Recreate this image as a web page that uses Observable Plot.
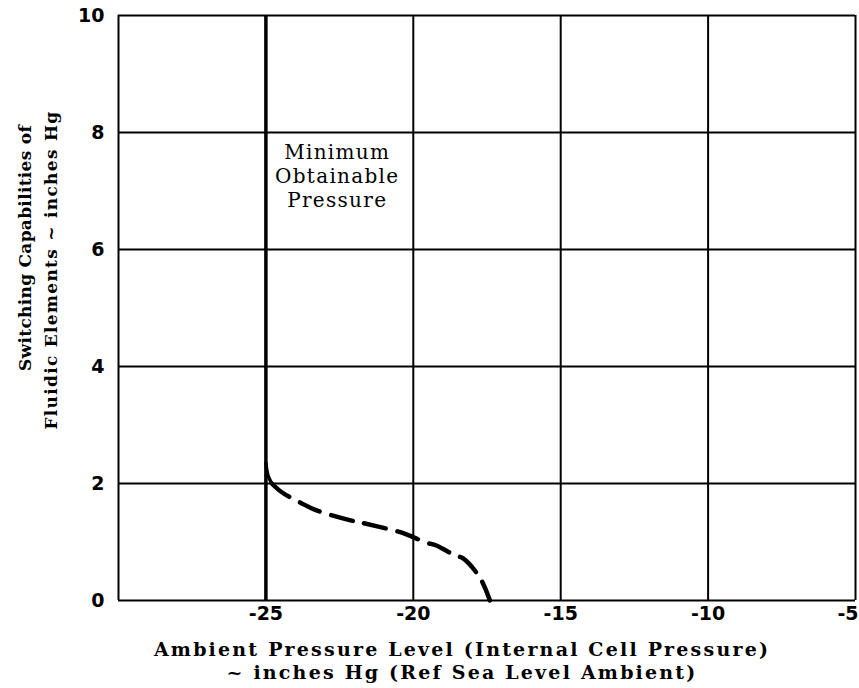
<!DOCTYPE html>
<html>
<head>
<meta charset="utf-8">
<script src="https://cdn.jsdelivr.net/npm/d3@7"></script>
<script src="https://cdn.jsdelivr.net/npm/@observablehq/plot@0.6"></script>
<style>
  html, body { margin: 0; padding: 0; background: #fff; }
  #chart svg { display: block; }
  .xtitle text { letter-spacing: 2.2px; }
  .ytitle1 text { letter-spacing: 0.3px; }
  .ytitle2 text { letter-spacing: 1.3px; }
  .note text { letter-spacing: 1.3px; }
</style>
</head>
<body>
<div id="chart"></div>
<script>
const xTicks = [-25, -20, -15, -10];
const xLastTick = [-5];
const yTicks = [0, 2, 4, 6, 8, 10];
const xGrid = [-30, -25, -20, -15, -10, -5];
const minPressure = -25;

// solid part of the curve, hugging the minimum-pressure line
const solidX = [-25, -24.93, -24.8];
const solidY = [2.35, 2.14, 2.0];

// dashed part of the curve
const dashX = [-24.8, -24.46, -23.78, -23.28, -22.13, -21.76, -20.68, -20.34, -19.56, -19.22, -18.58, -18.31, -17.74, -17.4];
const dashY = [2.0, 1.85, 1.66, 1.54, 1.37, 1.33, 1.2, 1.15, 0.99, 0.94, 0.77, 0.72, 0.39, 0.0];

const noteLines = "Minimum\nObtainable\nPressure";
const xTitle1 = "Ambient Pressure Level (Internal Cell Pressure)";
const xTitle2 = "~ inches Hg (Ref Sea Level Ambient)";
const yTitle1 = "Switching Capabilities of";
const yTitle2 = "Fluidic Elements ~ inches Hg";

const solid = solidX.map((x, i) => ({x, y: solidY[i]}));
const dashed = dashX.map((x, i) => ({x, y: dashY[i]}));

const serif = "'DejaVu Serif', 'Liberation Serif', serif";
const sans = "'DejaVu Sans', 'Liberation Sans', sans-serif";
const fmt = d => "-" + Math.abs(d);

const chart = Plot.plot({
  width: 859,
  height: 688,
  marginLeft: 118,
  marginRight: 4,
  marginTop: 15,
  marginBottom: 88,
  style: {background: "#fff", color: "#000"},
  x: {domain: [-30, -5]},
  y: {domain: [0, 10]},
  marks: [
    Plot.ruleX(xGrid, {stroke: "#000", strokeWidth: 2}),
    Plot.ruleY(yTicks, {stroke: "#000", strokeWidth: 2}),
    Plot.ruleX([minPressure], {stroke: "#000", strokeWidth: 3.5}),
    Plot.line(solid, {x: "x", y: "y", stroke: "#000", strokeWidth: 3.5, curve: "catmull-rom"}),
    Plot.line(dashed, {x: "x", y: "y", stroke: "#000", strokeWidth: 4.5, strokeDasharray: "22,12", curve: "catmull-rom", strokeLinecap: "round"}),
    Plot.axisX(xTicks, {tickSize: 0, tickPadding: 6, label: null, tickFormat: fmt,
      fontSize: 19, fontWeight: "bold", fontFamily: sans}),
    Plot.axisX(xLastTick, {tickSize: 0, tickPadding: 6, label: null, tickFormat: fmt, textAnchor: "end", dx: 3,
      fontSize: 19, fontWeight: "bold", fontFamily: sans}),
    Plot.axisY(yTicks, {tickSize: 0, tickPadding: 14, label: null, tickFormat: d => String(d),
      fontSize: 19, fontWeight: "bold", fontFamily: sans}),
    Plot.text([noteLines], {x: -22.58, y: 7.26, text: d => d, textAnchor: "middle", lineAnchor: "middle",
      fontSize: 20, fontFamily: serif, lineHeight: 1.2, className: "note"}),
    Plot.text([xTitle1], {frameAnchor: "bottom", dx: -25, dy: 55, lineAnchor: "bottom", text: d => d,
      fontSize: 19, fontWeight: "bold", fontFamily: serif, className: "xtitle"}),
    Plot.text([xTitle2], {frameAnchor: "bottom", dx: -25, dy: 78, lineAnchor: "bottom", text: d => d,
      fontSize: 19, fontWeight: "bold", fontFamily: serif, className: "xtitle"}),
    Plot.text([yTitle1], {frameAnchor: "left", dx: -93, dy: -60, rotate: -90, textAnchor: "middle", lineAnchor: "middle", text: d => d,
      fontSize: 17, fontWeight: "bold", fontFamily: serif, className: "ytitle1"}),
    Plot.text([yTitle2], {frameAnchor: "left", dx: -67, dy: -38, rotate: -90, textAnchor: "middle", lineAnchor: "middle", text: d => d,
      fontSize: 17, fontWeight: "bold", fontFamily: serif, className: "ytitle2"})
  ]
});
document.getElementById("chart").appendChild(chart);
</script>
</body>
</html>
